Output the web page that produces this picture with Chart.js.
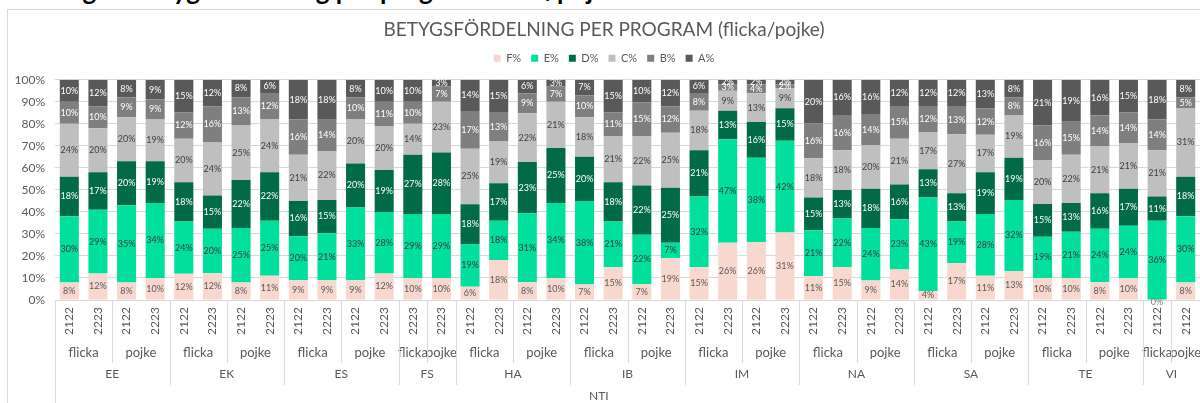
<!DOCTYPE html>
<html>
<head>
<meta charset="utf-8">
<script src="https://cdn.jsdelivr.net/npm/chart.js@4.4.1/dist/chart.umd.min.js"></script>
<style>
  body { margin: 0; width: 1200px; height: 403px; overflow: hidden; background: #fff; position: relative; font-family: Lato, sans-serif; }
  #rubrik { position: absolute; left: 4px; top: -23px; font: bold 26px/1 Lato, sans-serif; color: #000; white-space: nowrap; }
  #ram { position: absolute; left: 7px; top: 9px; width: 1205px; height: 420px; border: 1px solid #D9D9D9; background: #fff; }
  canvas { display: block; }
</style>
</head>
<body>
<div id="rubrik">Ändring av betygsfördelning per program flicka/pojke</div>
<div id="ram"><canvas id="chart" width="1205" height="420"></canvas></div>
<script>
// kategorier, en stapel per läsår / kön / program
const ar = ['2122','2223','2122','2223', '2122','2223','2122','2223', '2122','2223','2122','2223', '2223','2223',
            '2122','2223','2122','2223', '2122','2223','2122','2223', '2122','2223','2122','2223', '2122','2223','2122','2223',
            '2122','2223','2122','2223', '2122','2223','2122','2223', '2122','2122'];
const kon = ['flicka','flicka','pojke','pojke', 'flicka','flicka','pojke','pojke', 'flicka','flicka','pojke','pojke', 'flicka','pojke',
             'flicka','flicka','pojke','pojke', 'flicka','flicka','pojke','pojke', 'flicka','flicka','pojke','pojke', 'flicka','flicka','pojke','pojke',
             'flicka','flicka','pojke','pojke', 'flicka','flicka','pojke','pojke', 'flicka','pojke'];
const program = ['EE','EE','EE','EE', 'EK','EK','EK','EK', 'ES','ES','ES','ES', 'FS','FS',
                 'HA','HA','HA','HA', 'IB','IB','IB','IB', 'IM','IM','IM','IM', 'NA','NA','NA','NA',
                 'SA','SA','SA','SA', 'TE','TE','TE','TE', 'VI','VI'];
const skola = 'NTI';

// andel per betyg (%)
const F = [8,12,8,10, 12,12,8,11, 9,9,9,12, 10,10, 6,18,8,10, 7,15,7,19, 15,26,26,31, 11,15,9,14, 4,17,11,13, 10,10,8,10, 0,8];
const E = [30,29,35,34, 24,20,25,25, 20,21,33,28, 29,29, 19,18,31,34, 38,21,22,7, 32,47,38,42, 21,22,24,23, 43,19,28,32, 19,21,24,24, 36,30];
const D = [18,17,20,19, 18,15,22,22, 16,15,20,19, 27,28, 18,17,23,25, 20,18,22,25, 21,13,16,15, 15,13,18,16, 13,13,19,19, 15,13,16,17, 11,18];
const C = [24,20,20,19, 20,24,25,24, 21,22,20,20, 14,23, 25,19,22,21, 18,21,22,25, 18,9,13,9, 18,18,20,21, 17,27,17,19, 20,22,21,21, 21,31];
const B = [10,10,9,9, 12,16,13,12, 16,14,10,11, 10,7, 17,13,9,7, 10,11,15,12, 8,3,4,2, 16,16,14,15, 12,13,12,8, 16,15,14,14, 14,5];
const A = [10,12,8,9, 15,12,8,6, 18,18,8,10, 10,3, 14,15,6,3, 7,15,10,12, 6,2,2,2, 20,16,16,12, 12,12,13,8, 21,19,16,15, 18,8];

const betyg = ['F%','E%','D%','C%','B%','A%'];
const varden = [F, E, D, C, B, A];
const farger = ['#F8D8CE','#00E09C','#006B46','#BFBFBF','#7F7F7F','#595959'];
const textfarger = ['#595959','#3A3A3A','#FFFFFF','#404040','#FFFFFF','#FFFFFF'];

// 100% staplat som i Excel
const summa = F.map((v, i) => varden.reduce((s, serie) => s + serie[i], 0));

const datasets = betyg.map((namn, k) => ({
  label: namn,
  data: varden[k].map((v, i) => v / summa[i] * 100),
  raw: varden[k],
  backgroundColor: farger[k],
  borderWidth: 0,
  barPercentage: 0.665,
  categoryPercentage: 1
}));

const etiketter = {
  id: 'etiketter',
  afterDatasetsDraw(chart) {
    const { ctx } = chart;
    ctx.save();
    ctx.font = '9px Lato';
    ctx.textAlign = 'center';
    ctx.textBaseline = 'middle';
    chart.data.datasets.forEach((ds, k) => {
      ctx.fillStyle = textfarger[k];
      chart.getDatasetMeta(k).data.forEach((bar, i) => {
        const v = ds.raw[i];
        if (v === 0) {
          ctx.fillStyle = '#7F7F7F';
          ctx.fillText('0%', bar.x, bar.base + 2);
          ctx.fillStyle = textfarger[k];
          return;
        }
        ctx.fillText(v + '%', bar.x, (bar.y + bar.base) / 2);
      });
    });
    ctx.restore();
  }
};

function grupper(nycklar) {
  const res = [];
  nycklar.forEach((n, i) => {
    const sista = res[res.length - 1];
    if (sista && sista.namn === n.namn && sista.id === n.id) sista.slut = i;
    else res.push({ namn: n.namn, id: n.id, start: i, slut: i });
  });
  return res;
}

const xAxel = {
  id: 'xAxel',
  afterDraw(chart) {
    const { ctx, chartArea, scales: { x } } = chart;
    const bas = chartArea.bottom;
    const halv = (x.getPixelForValue(1) - x.getPixelForValue(0)) / 2;
    ctx.save();
    ctx.fillStyle = '#595959';
    ctx.strokeStyle = '#D9D9D9';
    ctx.lineWidth = 1;
    ctx.textAlign = 'center';
    ctx.textBaseline = 'middle';

    ctx.font = '12px Lato';
    ar.forEach((a, i) => {
      ctx.save();
      ctx.translate(x.getPixelForValue(i), bas + 21);
      ctx.rotate(-Math.PI / 2);
      ctx.fillText(a, 0, 0);
      ctx.restore();
    });

    const linje = (xp, langd) => {
      const xx = Math.round(xp) + 0.5;
      ctx.beginPath();
      ctx.moveTo(xx, bas);
      ctx.lineTo(xx, bas + langd);
      ctx.stroke();
    };

    ctx.font = '13px Lato';
    grupper(kon.map((k, i) => ({ namn: k, id: program[i] }))).forEach(g => {
      const mitt = (x.getPixelForValue(g.start) + x.getPixelForValue(g.slut)) / 2;
      ctx.fillText(g.namn, mitt, bas + 53);
      linje(x.getPixelForValue(g.start) - halv, 63);
    });

    ctx.font = '12px Lato';
    grupper(program.map(p => ({ namn: p, id: p }))).forEach(g => {
      const mitt = (x.getPixelForValue(g.start) + x.getPixelForValue(g.slut)) / 2;
      ctx.fillText(g.namn, mitt, bas + 74);
      linje(x.getPixelForValue(g.start) - halv, 85);
    });

    linje(x.getPixelForValue(0) - halv, chart.height - bas);
    ctx.fillText(skola, x.getPixelForValue(18.5), bas + 96);
    ctx.restore();
  }
};

new Chart(document.getElementById('chart'), {
  type: 'bar',
  data: { labels: ar, datasets },
  plugins: [etiketter, xAxel],
  options: {
    responsive: false,
    animation: false,
    layout: { padding: { left: 0, right: 13, top: 0, bottom: 0 } },
    plugins: {
      title: {
        display: true,
        text: 'BETYGSFÖRDELNING PER PROGRAM (flicka/pojke)',
        color: '#595959',
        font: { family: 'Lato', size: 19, weight: 'normal' },
        padding: { top: 8, bottom: 2 }
      },
      legend: {
        weight: 1600,
        labels: {
          boxWidth: 7,
          boxHeight: 7,
          padding: 10,
          color: '#595959',
          font: { family: 'Lato', size: 11 }
        }
      },
      // tomt avstånd mellan förklaring och diagram
      subtitle: {
        display: true,
        text: '',
        padding: 0,
        font: { size: 5 }
      },
      tooltip: { enabled: false }
    },
    scales: {
      x: {
        stacked: true,
        grid: { display: false },
        border: { display: true, color: '#D9D9D9' },
        ticks: { display: false },
        afterFit: s => { s.height = 130; }
      },
      y: {
        stacked: true,
        min: 0,
        max: 100,
        ticks: {
          stepSize: 10,
          color: '#595959',
          font: { family: 'Lato', size: 12 },
          padding: 10,
          callback: v => v + '%'
        },
        grid: { color: '#D9D9D9', drawTicks: false },
        border: { display: false },
        afterFit: s => { s.width = 47; }
      }
    }
  }
});
</script>
</body>
</html>
